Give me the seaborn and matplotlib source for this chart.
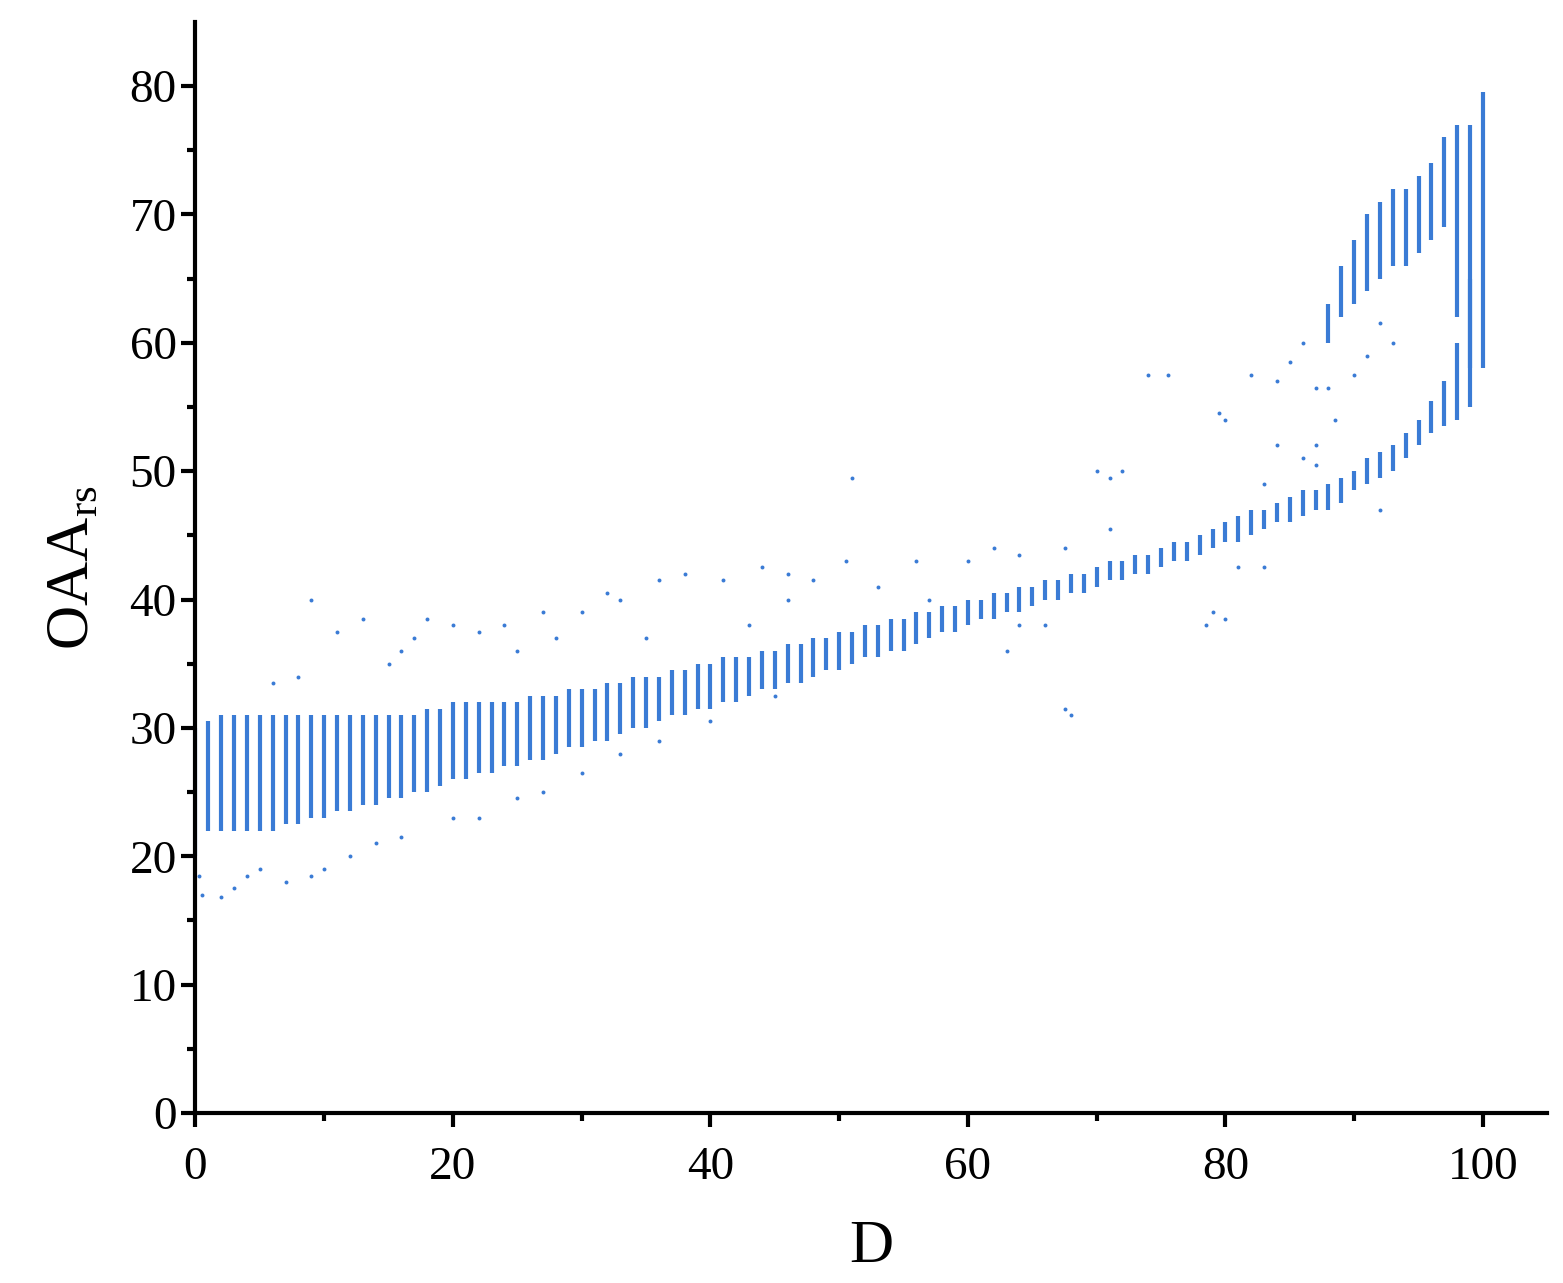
import numpy as np
import pandas as pd
import seaborn as sns
import matplotlib.pyplot as plt

# main band: D columns with lower / upper OAA_rs
d_main = list(range(0, 101))
low_main = [20, 22, 22, 22, 22, 22, 22, 22.5, 22.5, 23,
            23, 23.5, 23.5, 24, 24, 24.5, 24.5, 25, 25, 25.5,
            26, 26, 26.5, 26.5, 27, 27, 27.5, 27.5, 28, 28.5,
            28.5, 29, 29, 29.5, 30, 30, 30.5, 31, 31, 31.5,
            31.5, 32, 32, 32.5, 33, 33, 33.5, 33.5, 34, 34.5,
            34.5, 35, 35.5, 35.5, 36, 36, 36.5, 37, 37.5, 37.5,
            38, 38.5, 38.5, 39, 39, 39.5, 40, 40, 40.5, 40.5,
            41, 41.5, 41.5, 42, 42, 42.5, 43, 43, 43.5, 44,
            44.5, 44.5, 45, 45.5, 46, 46, 46.5, 47, 47, 47.5,
            48.5, 49, 49.5, 50, 51, 52, 53, 53.5, 54, 55, 58]
high_main = [30, 30.5, 31, 31, 31, 31, 31, 31, 31, 31,
             31, 31, 31, 31, 31, 31, 31, 31, 31.5, 31.5,
             32, 32, 32, 32, 32, 32, 32.5, 32.5, 32.5, 33,
             33, 33, 33.5, 33.5, 34, 34, 34, 34.5, 34.5, 35,
             35, 35.5, 35.5, 35.5, 36, 36, 36.5, 36.5, 37, 37,
             37.5, 37.5, 38, 38, 38.5, 38.5, 39, 39, 39.5, 39.5,
             40, 40, 40.5, 40.5, 41, 41, 41.5, 41.5, 42, 42,
             42.5, 43, 43, 43.5, 43.5, 44, 44.5, 44.5, 45, 45.5,
             46, 46.5, 47, 47, 47.5, 48, 48.5, 48.5, 49, 49.5,
             50, 51, 51.5, 52, 53, 54, 55.5, 57, 60, 65, 79.5]

# upper branch near D = 100
d_up = [88, 89, 90, 91, 92, 93, 94, 95, 96, 97, 98, 99]
low_up = [60, 62, 63, 64, 65, 66, 66, 67, 68, 69, 62, 58]
high_up = [63, 66, 68, 70, 71, 72, 72, 73, 74, 76, 77, 77]

# scattered points
out_d = [9, 13, 11, 17, 18, 20, 22, 24, 27, 30, 32, 33, 36, 38, 41, 44, 46, 48, 51, 50.5,
         56, 60, 62, 64, 68, 67.5, 67.5, 70, 71, 72, 71, 74, 75.5, 78.5, 79, 80, 79.5, 80,
         81, 83, 82, 84, 84, 83, 86, 87, 85, 86, 87, 88, 87, 88.5, 90, 91, 92, 93, 92,
         5, 7, 9, 3, 2, 0.5, 12, 14, 16, 20, 22, 25, 27, 30, 33, 36, 40, 45, 4, 10, 0.3,
         6, 8, 15, 16, 25, 28, 35, 43, 46, 53, 57, 63, 64, 66]
out_v = [40, 38.5, 37.5, 37, 38.5, 38, 37.5, 38, 39, 39, 40.5, 40, 41.5, 42, 41.5, 42.5, 42, 41.5, 49.5, 43,
         43, 43, 44, 43.5, 31, 31.5, 44, 50, 49.5, 50, 45.5, 57.5, 57.5, 38, 39, 38.5, 54.5, 54,
         42.5, 42.5, 57.5, 57, 52, 49, 51, 50.5, 58.5, 60, 56.5, 56.5, 52, 54, 57.5, 59, 61.5, 60, 47,
         19, 18, 18.5, 17.5, 16.8, 17, 20, 21, 21.5, 23, 23, 24.5, 25, 26.5, 28, 29, 30.5, 32.5, 18.5, 19, 18.5,
         33.5, 34, 35, 36, 36, 37, 37, 38, 40, 41, 40, 36, 38, 38]

color = "#3a7bd5"

sns.set_style("ticks")
plt.rcParams['font.family'] = ['Liberation Serif', 'DejaVu Serif']
plt.rcParams['text.color'] = 'black'
plt.rcParams['axes.labelcolor'] = 'black'
plt.rcParams['xtick.color'] = 'black'
plt.rcParams['ytick.color'] = 'black'

fig, ax = plt.subplots(figsize=(15.63, 12.83), dpi=100)
ax.vlines(d_main, low_main, high_main, color=color, linewidth=3)
ax.vlines(d_up, low_up, high_up, color=color, linewidth=3)
sns.scatterplot(x=out_d, y=out_v, ax=ax, color=color, s=8, linewidth=0)

ax.set_xlim(0, 105)
ax.set_ylim(0, 85)
ax.set_xticks(range(0, 101, 20))
ax.set_xticks(range(10, 101, 20), minor=True)
ax.set_yticks(range(0, 81, 10))
ax.set_yticks(range(5, 81, 10), minor=True)
ax.tick_params(axis='both', which='major', labelsize=34, length=10, width=3, direction='out')
ax.tick_params(axis='x', which='major', pad=14)
ax.tick_params(axis='both', which='minor', length=6, width=3, direction='out')
for s in ['left', 'bottom']:
    ax.spines[s].set_linewidth(3)
    ax.spines[s].set_color('black')
ax.spines['top'].set_visible(False)
ax.spines['right'].set_visible(False)
ax.set_xlabel("D", fontsize=44, labelpad=22)
ax.set_ylabel(r"OAA$_{\mathregular{rs}}$", fontsize=44, labelpad=20)

plt.subplots_adjust(left=0.125, right=0.99, top=0.983, bottom=0.1325)
plt.savefig("out.png", dpi=100)
